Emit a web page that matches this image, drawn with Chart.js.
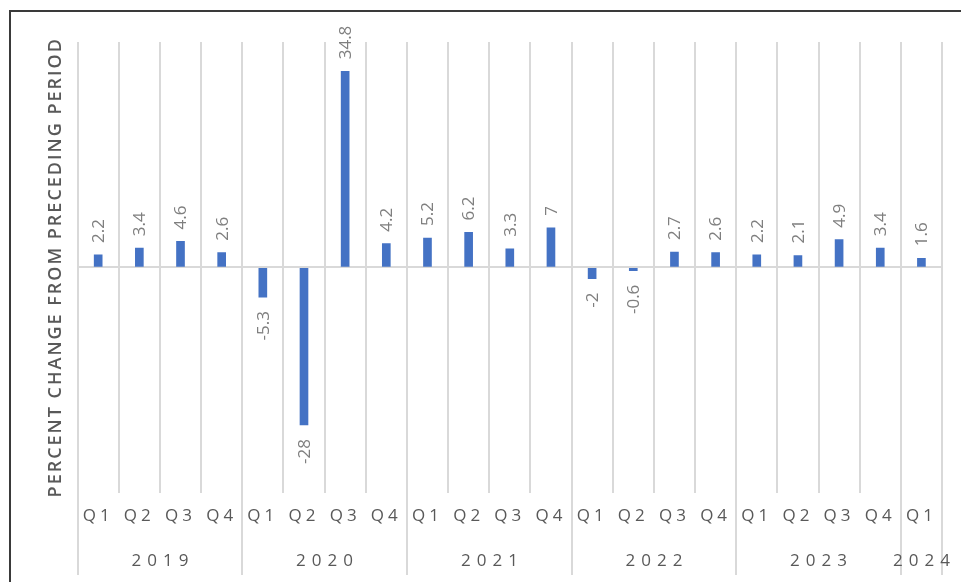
<!DOCTYPE html>
<html>
<head>
<meta charset="utf-8">
<script src="https://cdn.jsdelivr.net/npm/chart.js@4/dist/chart.umd.min.js"></script>
<style>
  html, body { margin: 0; padding: 0; background: #fff; overflow: hidden; }
  .frame {
    position: absolute; left: 9px; top: 10px; width: 1000px; height: 1000px;
    border-left: 2px solid #3a3a3a; border-top: 2px solid #3a3a3a;
  }
  #chart { position: absolute; left: 0; top: 0; }
</style>
</head>
<body>
<div class="frame"></div>
<canvas id="chart" width="961" height="582"></canvas>
<script>
// =================== DATA ===================
const quarters = [
  "Q1", "Q2", "Q3", "Q4",
  "Q1", "Q2", "Q3", "Q4",
  "Q1", "Q2", "Q3", "Q4",
  "Q1", "Q2", "Q3", "Q4",
  "Q1", "Q2", "Q3", "Q4",
  "Q1",
];
const years = ["2019", "2020", "2021", "2022", "2023", "2024"];
const quartersPerYear = [4, 4, 4, 4, 4, 1];
const pctChange = [
  2.2, 3.4, 4.6, 2.6,
  -5.3, -28, 34.8, 4.2,
  5.2, 6.2, 3.3, 7,
  -2, -0.6, 2.7, 2.6,
  2.2, 2.1, 4.9, 3.4,
  1.6,
];
const yTitle = "PERCENT CHANGE FROM PRECEDING PERIOD";

// =================== STYLE ===================
const FONT = "'Open Sans', 'Liberation Sans', sans-serif";
const GRID = "#d9d9d9";
const AXIS_TEXT = "#595959";
const LABEL_TEXT = "#7f7f7f";

// =================== PLUGINS ===================
// rotated value labels, outside end of each bar
const valueLabels = {
  id: "valueLabels",
  afterDatasetsDraw(chart) {
    const ctx = chart.ctx;
    const meta = chart.getDatasetMeta(0);
    ctx.save();
    ctx.letterSpacing = "0px";
    ctx.font = `17px ${FONT}`;
    ctx.fillStyle = LABEL_TEXT;
    ctx.textBaseline = "middle";
    meta.data.forEach((bar, i) => {
      const v = pctChange[i];
      ctx.save();
      ctx.translate(bar.x + 1, bar.y);
      ctx.rotate(-Math.PI / 2);
      if (v >= 0) {
        ctx.textAlign = "left";
        ctx.fillText(String(v), 12, 0);
      } else {
        ctx.textAlign = "right";
        ctx.fillText(String(v), -14, 0);
      }
      ctx.restore();
    });
    ctx.restore();
  },
};

// letter spacing: y title before datasets, quarter ticks after (ticks z = 1)
const spacing = {
  id: "spacing",
  beforeDraw(chart) {
    chart.ctx.letterSpacing = "2px";
  },
  beforeDatasetsDraw(chart) {
    chart.ctx.letterSpacing = "0px";
  },
  afterDatasetsDraw(chart) {
    chart.ctx.letterSpacing = "4px";
  },
  afterDraw(chart) {
    chart.ctx.letterSpacing = "0px";
  },
};

// second category level: years and their dividers
const yearAxis = {
  id: "yearAxis",
  afterDraw(chart) {
    const ctx = chart.ctx;
    const x = chart.scales.x;
    const area = chart.chartArea;
    const half = (x.getPixelForValue(1) - x.getPixelForValue(0)) / 2;
    const lineBottom = 575;
    ctx.save();
    ctx.strokeStyle = GRID;
    ctx.lineWidth = 2;
    ctx.font = `17px ${FONT}`;
    ctx.fillStyle = AXIS_TEXT;
    ctx.textAlign = "center";
    ctx.textBaseline = "middle";
    ctx.letterSpacing = "6px";
    let start = 0;
    years.forEach((yr, k) => {
      const end = start + quartersPerYear[k] - 1;
      const left = Math.round(x.getPixelForValue(start) - half);
      const right = Math.round(x.getPixelForValue(end) + half);
      [left, right].forEach((px) => {
        ctx.beginPath();
        ctx.moveTo(px, area.bottom);
        ctx.lineTo(px, lineBottom);
        ctx.stroke();
      });
      ctx.fillText(yr, (left + right) / 2 + 3, 561);
      start = end + 1;
    });
    ctx.restore();
  },
};

// =================== CHART ===================
const chart = new Chart(document.getElementById("chart"), {
  type: "bar",
  data: {
    labels: quarters,
    datasets: [
      {
        data: pctChange,
        backgroundColor: "#4472c4",
        barThickness: 8,
      },
    ],
  },
  options: {
    responsive: false,
    animation: false,
    devicePixelRatio: 1,
    layout: { padding: { left: 41, right: 19, top: 42, bottom: 43 } },
    plugins: {
      legend: { display: false },
      tooltip: { enabled: false },
    },
    scales: {
      x: {
        grid: { offset: true, color: GRID, lineWidth: 2, drawTicks: false },
        border: { display: false },
        ticks: {
          z: 1,
          autoSkip: false,
          maxRotation: 0,
          padding: 13,
          color: AXIS_TEXT,
          font: { family: FONT, size: 17 },
        },
      },
      y: {
        min: -40,
        max: 40,
        ticks: { display: false, stepSize: 10 },
        grid: {
          drawTicks: false,
          lineWidth: 2,
          color: (c) => (c.tick && c.tick.value === 0 ? GRID : "rgba(0,0,0,0)"),
        },
        border: { display: false },
        title: {
          display: true,
          text: yTitle,
          color: AXIS_TEXT,
          font: { family: FONT, size: 18, weight: "600" },
          padding: { top: 4, bottom: 11 },
        },
      },
    },
  },
  plugins: [valueLabels, spacing, yearAxis],
});
</script>
</body>
</html>
